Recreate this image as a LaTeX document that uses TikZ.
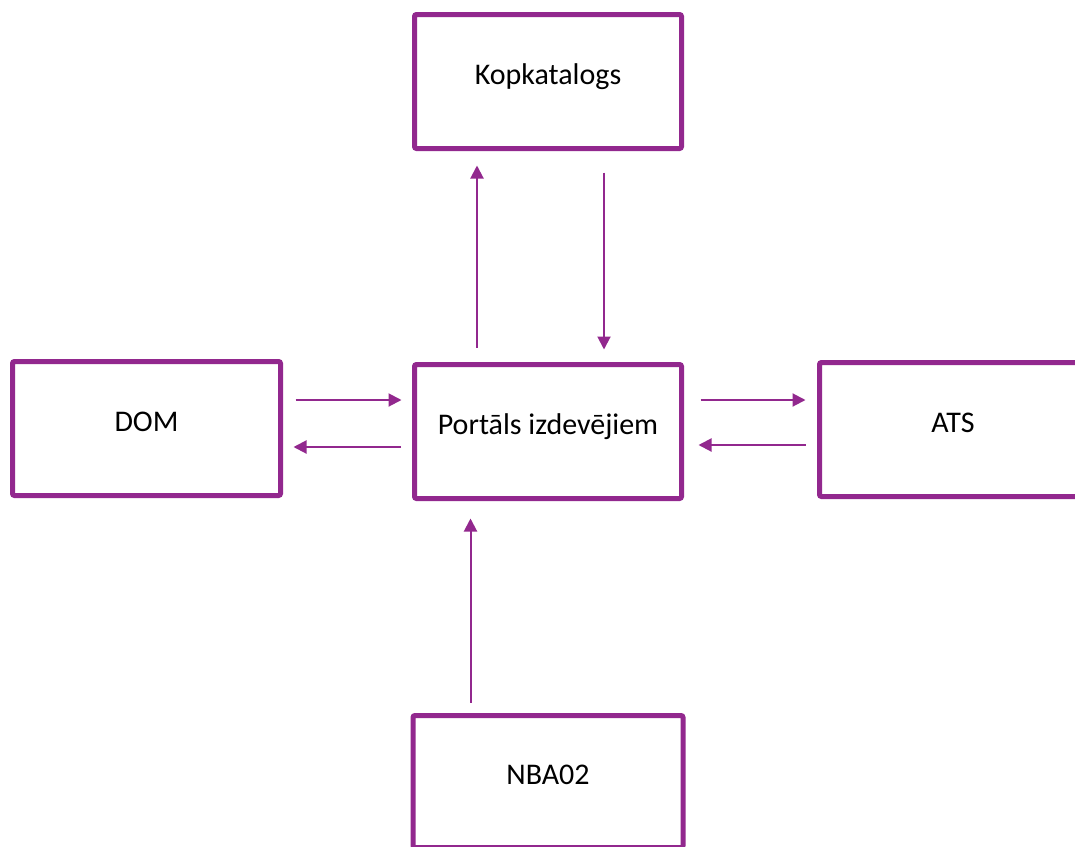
\documentclass[tikz,border=0pt]{standalone}
\usepackage{fontspec}
\setmainfont{Carlito}
\usetikzlibrary{arrows.meta}
\definecolor{boxpurple}{RGB}{146,40,142}
\begin{document}
\begin{tikzpicture}[x=1pt,y=-1pt,
  box/.style={draw=boxpurple, line width=5pt, rounded corners=2pt, fill=white,
    minimum width=267pt, minimum height=134pt, inner sep=0pt,
    font=\fontsize{30}{36}\selectfont, text height=15pt, text depth=9pt},
  arr/.style={draw=boxpurple, line width=2pt, -{Triangle[length=13pt,width=13pt]}}]
\useasboundingbox (0,0) rectangle (1075,846);
\node[box] (K) at (548,81.5) {Kopkatalogs};
\node[box] (P) at (548,431.5) {Portāls izdevējiem};
\node[box, minimum width=268pt] (D) at (146.5,428.5) {DOM};
\node[box] (A) at (953,429.5) {ATS};
\node[box, minimum width=270pt, minimum height=132pt] (N) at (548,781.5) {NBA02};
\coordinate (lu) at (477,0);
\coordinate (ld) at (604,0);
\coordinate (ln) at (470.5,0);
\coordinate (h1) at (0,400);
\coordinate (h2) at (0,447);
\coordinate (h3) at (0,400);
\coordinate (h4) at (0,445);
\draw[arr, shorten <=14.5pt, shorten >=14.5pt] (P.north -| lu) -- (K.south -| lu);
\draw[arr, shorten <=21.5pt, shorten >=12.5pt] (K.south -| ld) -- (P.north -| ld);
\draw[arr, shorten <=12.5pt, shorten >=10.5pt] (D.east |- h1) -- (P.west |- h1);
\draw[arr, shorten <=11pt, shorten >=10.5pt] (P.west |- h2) -- (D.east |- h2);
\draw[arr, shorten <=16.5pt, shorten >=11.5pt] (P.east |- h3) -- (A.west |- h3);
\draw[arr, shorten <=11.5pt, shorten >=14.5pt] (A.west |- h4) -- (P.east |- h4);
\draw[arr, shorten <=10.5pt, shorten >=17.5pt] (N.north -| ln) -- (P.south -| ln);
\end{tikzpicture}
\end{document}
